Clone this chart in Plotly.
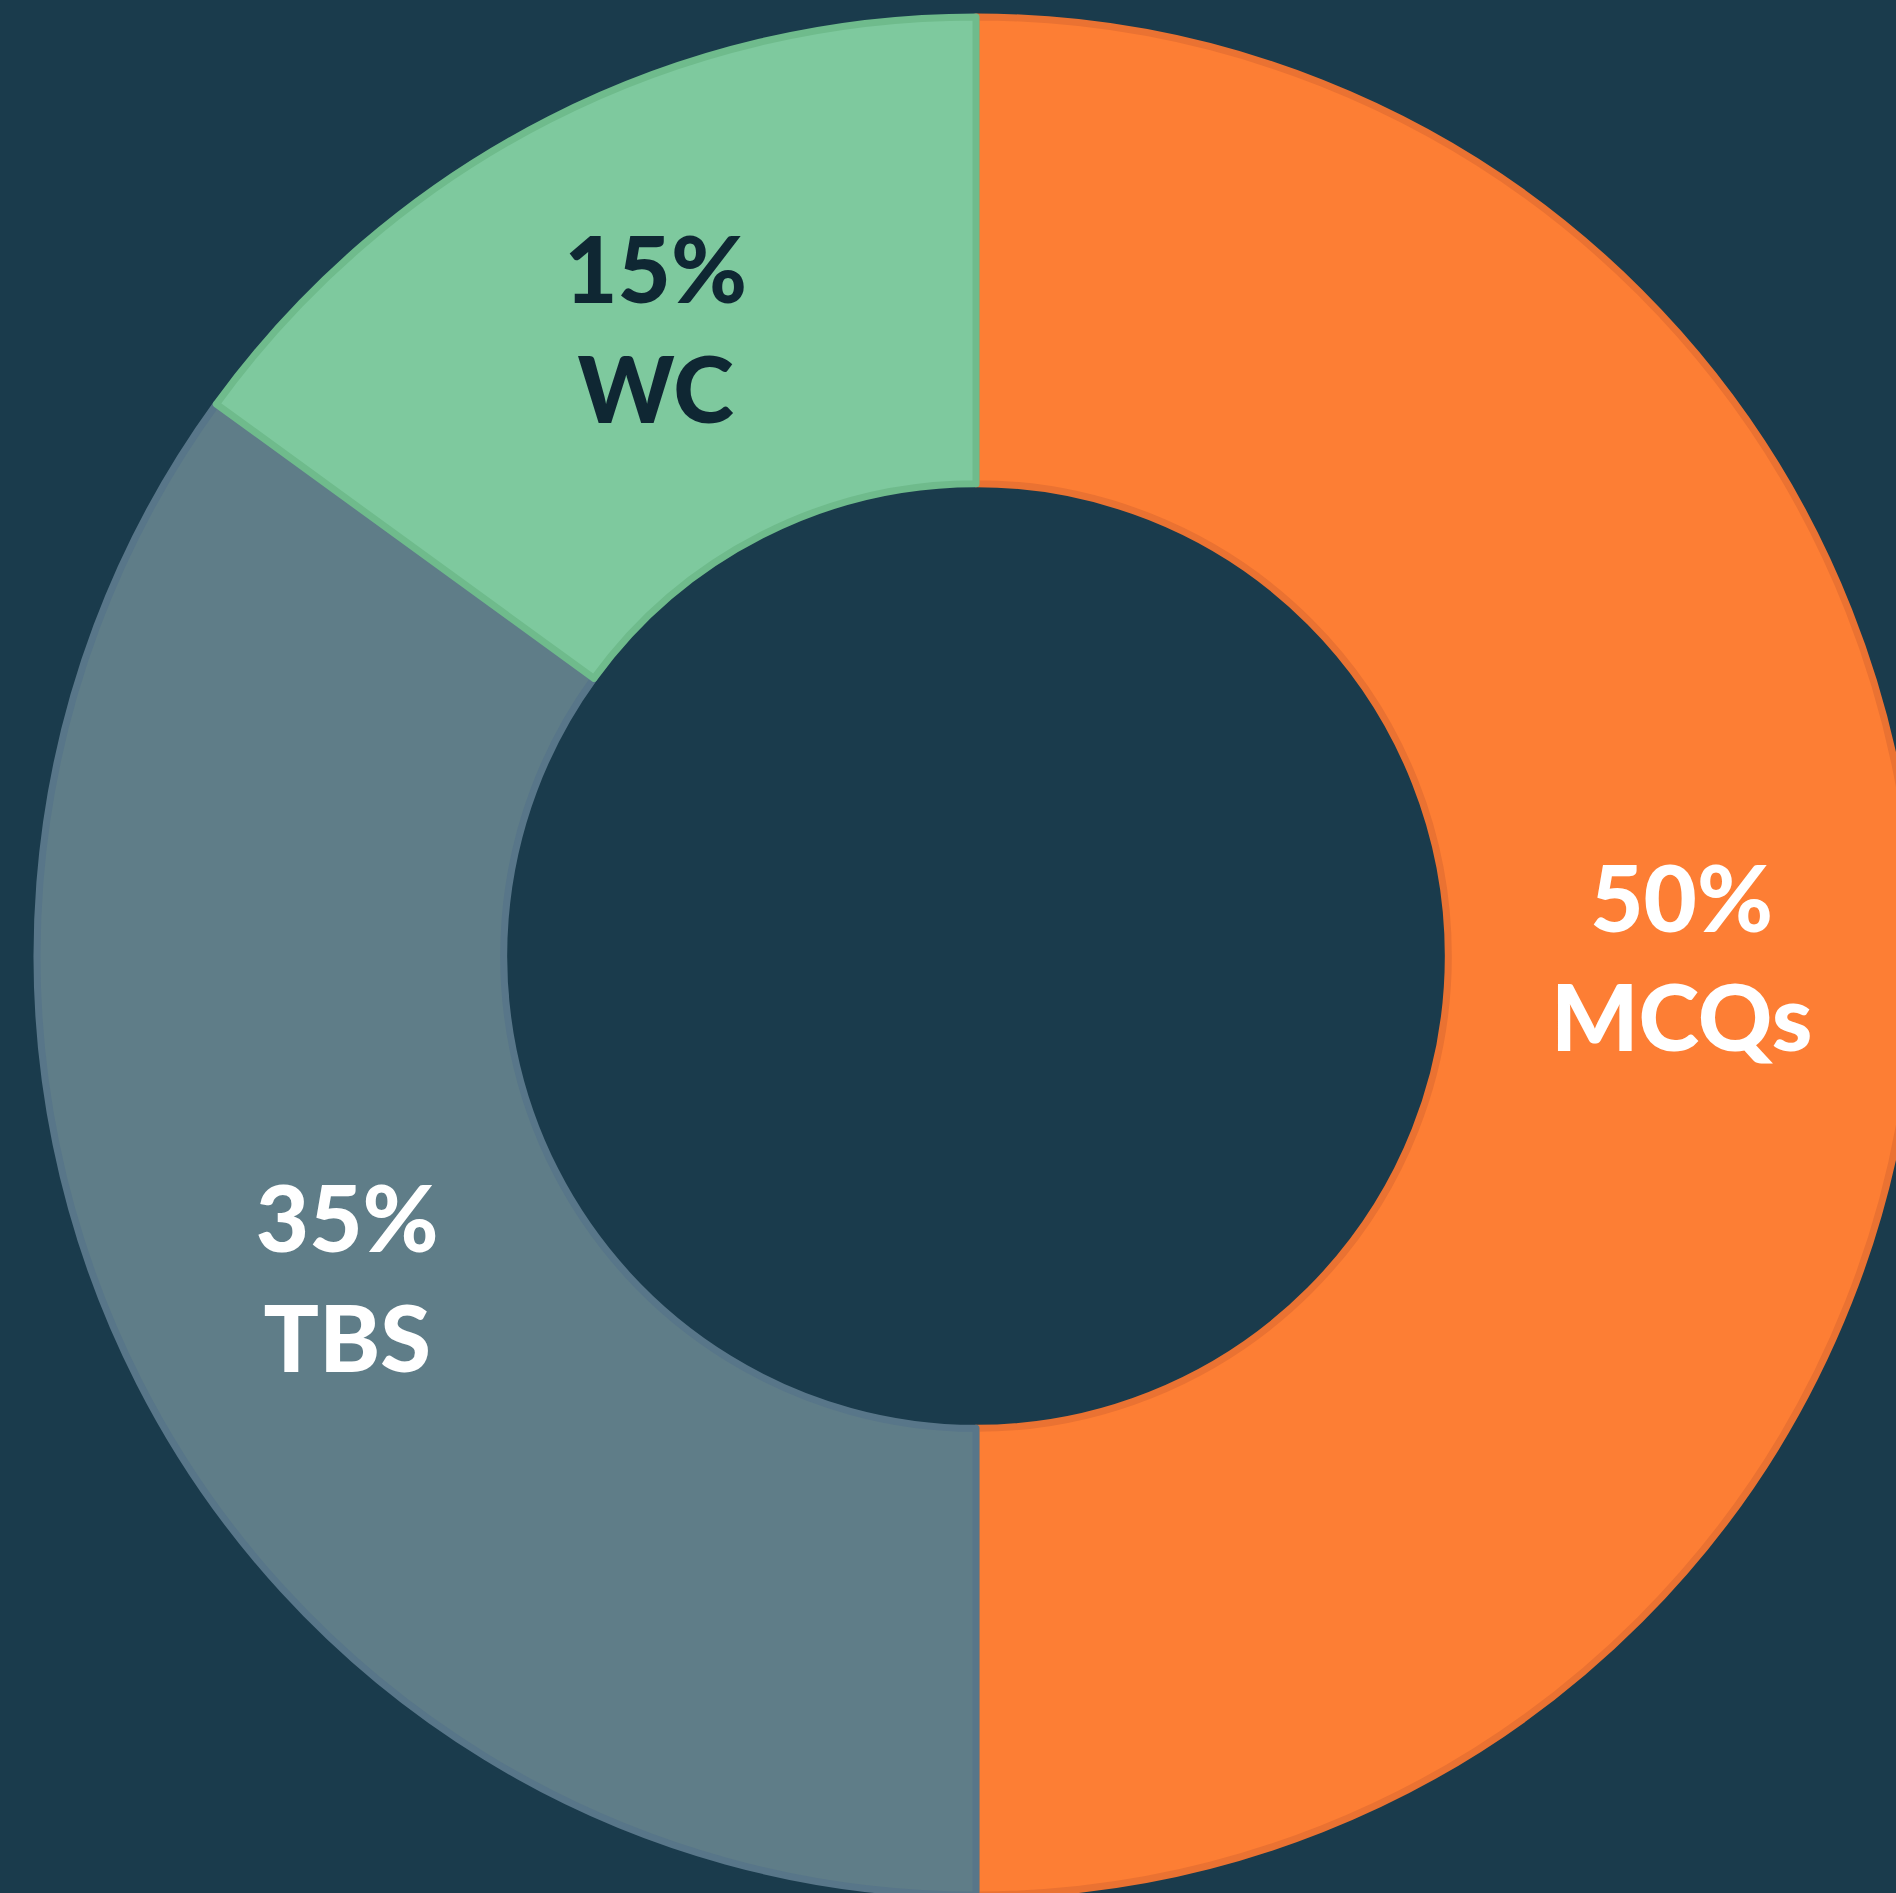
import plotly.graph_objects as go

labels = ["MCQs", "TBS", "WC"]
values = [50, 35, 15]
slice_colors = ["#fd7e34", "#5f7d88", "#7ec99e"]
edge_colors = ["#ea7232", "#587689", "#6fbb8c"]
text_colors = ["#ffffff", "#ffffff", "#0f2733"]
bg = "#1a3b4c"

W, H = 1952, 1912
R = 939
cy_top = 956

fig = go.Figure(go.Pie(
    labels=labels,
    values=values,
    sort=False,
    direction="clockwise",
    rotation=0,
    hole=0.503,
    marker=dict(colors=slice_colors, line=dict(color=edge_colors, width=7)),
    texttemplate="%{percent:.0%}<br>%{label}",
    textposition="inside",
    insidetextorientation="horizontal",
    textfont=dict(family="Lato", size=92, color=text_colors, weight=900),
    showlegend=False,
    hoverinfo="label+percent",
    domain=dict(x=[0, 1], y=[1 - (cy_top + R) / H, 1 - (cy_top - R) / H]),
))

fig.update_layout(
    width=W, height=H,
    margin=dict(l=0, r=0, t=0, b=0),
    paper_bgcolor=bg,
    plot_bgcolor=bg,
    uniformtext=dict(minsize=92, mode="show"),
)

fig.write_html(
    "out.html",
    post_script="document.body.style.margin='0';document.body.style.overflow='hidden';document.body.style.background='%s';" % bg,
)
